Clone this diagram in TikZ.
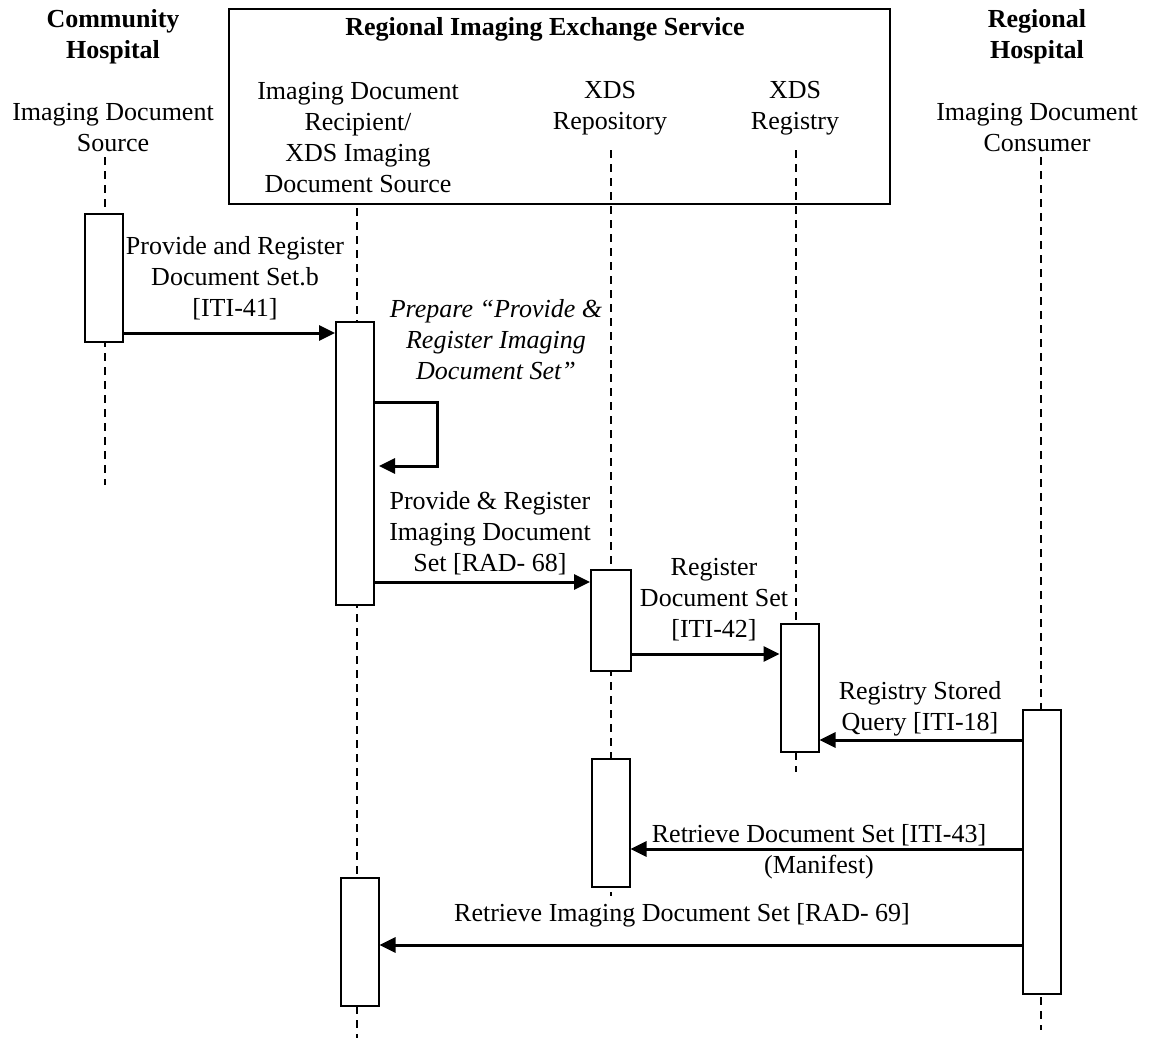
\documentclass[tikz,border=0pt]{standalone}
\usepackage{fontspec}
\setmainfont{Liberation Serif}
\usetikzlibrary{arrows.meta}
\begin{document}
\begin{tikzpicture}[x=1pt,y=-1pt,
  every node/.style={font=\fontsize{26}{31}\selectfont, align=center, inner sep=0pt},
  hdr/.style={font=\fontsize{26}{31}\selectfont\bfseries},
  life/.style={line width=2pt, dash pattern=on 8pt off 6pt},
  act/.style={draw, line width=2pt, fill=white, rectangle, minimum width=38pt},
  msg/.style={line width=3pt, -{Triangle[length=16pt,width=15pt]}},
  svcbox/.style={draw, line width=2.2pt, rectangle, anchor=north west, minimum width=661pt, minimum height=195pt}
]
\useasboundingbox (0,0) rectangle (1150,1038);

% service box and headers
\node[svcbox] (svc) at (228,8) {};
\node[hdr] (comm) at (113,37) {Community\\Hospital};
\node[hdr] (svct) at (545,29) {Regional Imaging Exchange Service};
\node[hdr] (reghosp) at (1037,37) {Regional\\Hospital};

\node (hsrc) at (113,128) {Imaging Document\\Source};
\node (hrec) at (358,138) {Imaging Document\\Recipient/\\XDS Imaging\\Document Source};
\node (hrep) at (610,108) {XDS\\Repository};
\node (hreg) at (795,108) {XDS\\Registry};
\node (hcon) at (1037,128) {Imaging Document\\Consumer};

% lifelines
\coordinate (ls0) at (105,157); \coordinate (ls1) at (105,485);
\coordinate (lr0) at (357,208); \coordinate (lr1) at (357,1038);
\coordinate (lp0) at (611,150); \coordinate (lp1) at (611,896);
\coordinate (lg0) at (796,150); \coordinate (lg1) at (796,772);
\coordinate (lc0) at (1041,157); \coordinate (lc1) at (1041,1030);
\draw[life] (ls0) -- (ls1);
\draw[life] (lr0) -- (lr1);
\draw[life] (lp0) -- (lp1);
\draw[life] (lg0) -- (lg1);
\draw[life] (lc0) -- (lc1);

% activation boxes
\node[act, minimum height=128pt] (a1) at (104,278) {};
\node[act, minimum height=283pt] (a2) at (355,463.5) {};
\node[act, minimum width=40pt, minimum height=101pt] (a3) at (611,620.5) {};
\node[act, minimum height=128pt] (a4) at (799.5,688) {};
\node[act, minimum height=284pt] (a5) at (1041.5,852) {};
\node[act, minimum height=128pt] (a6) at (610.5,823) {};
\node[act, minimum height=128pt] (a7) at (359.5,942) {};

% messages
\draw[msg] (a1.east |- 0,333) -- (a2.west |- 0,333);
\coordinate (s1) at (437,402); \coordinate (s2) at (437,466);
\draw[msg, shorten >=4pt] (a2.east |- s1) -- (s1) -- (s2) -- (a2.east |- s2);
\draw[msg] (a2.east |- 0,582) -- (a3.west |- 0,582);
\draw[msg] (a3.east |- 0,654) -- (a4.west |- 0,654);
\draw[msg] (a5.west |- 0,740) -- (a4.east |- 0,740);
\draw[msg] (a5.west |- 0,849) -- (a6.east |- 0,849);
\draw[msg] (a5.west |- 0,945) -- (a7.east |- 0,945);

% labels
\node (l1) at (235,278) {Provide and Register\\Document Set.b\\{}[ITI-41]};
\node[font=\fontsize{26}{31}\selectfont\itshape] (l2) at (496,340) {Prepare “Provide \&\\Register Imaging\\Document Set”};
\node (l3) at (490,533) {Provide \& Register\\Imaging Document\\Set [RAD- 68]};
\node (l4) at (714,600) {Register\\Document Set\\{}[ITI-42]};
\node (l5) at (920,709) {Registry Stored\\Query [ITI-18]};
\node (l6) at (819,852) {Retrieve Document Set [ITI-43]\\(Manifest)};
\node (l7) at (682,915) {Retrieve Imaging Document Set [RAD- 69]};
\end{tikzpicture}
\end{document}
